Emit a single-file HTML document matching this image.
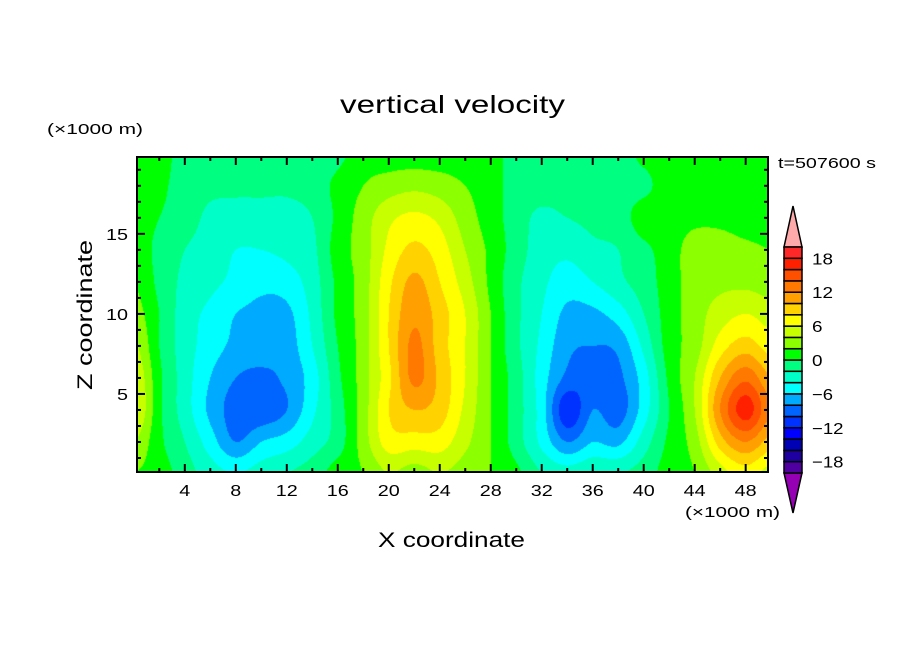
<!DOCTYPE html>
<html><head><meta charset="utf-8">
<style>
html,body{margin:0;padding:0;background:#fff;}
#wrap{position:relative;width:904px;height:654px;overflow:hidden;font-family:"Liberation Sans",sans-serif;}
</style></head><body>
<div id="wrap">
<canvas id="field" width="631" height="315" style="position:absolute;left:137px;top:157px;"></canvas>
<svg id="ov" width="904" height="654" style="position:absolute;left:0;top:0;" font-family="Liberation Sans, sans-serif">
<text x="340" y="113" font-size="25" textLength="225" lengthAdjust="spacingAndGlyphs">vertical velocity</text>
<text x="47" y="134" font-size="15" textLength="96" lengthAdjust="spacingAndGlyphs">(×1000 m)</text>
<text x="778" y="168" font-size="15" textLength="98" lengthAdjust="spacingAndGlyphs">t=507600 s</text>
<text x="685" y="517" font-size="15" textLength="95" lengthAdjust="spacingAndGlyphs">(×1000 m)</text>
<text x="378" y="547" font-size="21" textLength="147" lengthAdjust="spacingAndGlyphs">X coordinate</text>
<text x="0" y="0" font-size="21" textLength="150" lengthAdjust="spacingAndGlyphs" transform="translate(92,390) rotate(-90)">Z coordinate</text>
</svg>
</div>
<script>
// x = 0,2,...,50 ; rows z = 20,18,...,0
const xs = [0,2,4,6,8,10,12,14,16,18,20,22,24,26,28,30,32,34,36,38,40,42,44,46,48,50];
const zs = [20,18,16,14,12,10,8,6,4,2,0];
const w20 = [1,1,-1,-1,-1,-1,-1,-1,-0.5,1,1,1,1,1,1,-1,-1,-1,-1,-1,0.5,1,1,1,1,1];
const w18 = [1,0.5,-1,-1.5,-1.5,-1.5,-1.5,-1,0.5,2,3,3.5,3,2,1,-1,-1,-1,-1,-1,-0.5,1,1,1,1,1];
const w16 = [1,0,-1,-2.5,-3,-3,-3,-2,0.5,3,5.5,6.5,5.5,3,1,-1,-2.5,-2,-1.5,-1,1,1,1.5,1.5,1,1];
const w14 = [1,-0.5,-2,-3,-4,-4,-3.5,-2.5,1,3,6.5,8.5,7,4,1.5,-1,-3,-3.5,-2.5,-2,-0.5,1,3,3,2.5,2];
const w12 = [2,-0.5,-2.5,-3.5,-4.5,-5.5,-5,-3,0.5,3,7.5,10.5,8,5,1.5,-1.5,-3.5,-5,-4,-2.5,-1,1,3,3.5,3.5,3];
const w10 = [3,0,-3,-4.5,-6,-6.5,-6.5,-3.5,0.5,3,8,11.5,9,6,2,-1.5,-4,-6.5,-6.5,-5,-2,1,3,5,6,5];
const w8  = [4.5,0,-3,-5,-6.5,-7,-7,-4,0,3,8,12.5,9,6,2,-1.5,-4.5,-7.5,-8,-7.5,-3.5,1,3,7,9,7];
const w6  = [6,0.5,-3,-6,-8,-8.5,-7.5,-5,-0.5,3,7.5,12.5,9.5,6,2,-1,-5,-8.5,-9,-8.5,-5,0.5,4,10,13.5,10];
const w4  = [6.5,0.5,-3,-6.5,-9,-9.5,-8,-4.5,-1,3,8,10,9,5.5,2,-1,-5,-11.5,-8,-9,-5,0,4,12,17,12];
const w2  = [4,0.5,-2,-5,-8,-6,-5,-3,-1,3,7,7,7,4.5,2,-1,-4.5,-8,-6,-6.5,-3,0.5,3,9,12,9];
const w0  = [2,1,-1,-3,-4,-3,-2,-1,1,2,4,3,4,3,2,0.5,-2,-3,-2,-2,-1,1,2,5,7,5];
const rows = [w20,w18,w16,w14,w12,w10,w8,w6,w4,w2,w0];
const levelColors = ["#5000a0","#1e00a0","#0000b4","#0000ff","#0032ff","#0064ff","#00aaff","#00ffff","#00ffc8","#00ff80",
 "#00ff00","#8cff00","#c8ff00","#ffff00","#ffd200","#ffa000","#ff7800","#ff5000","#ff2000","#ff2828"];
const levelLabels = [-18,-12,-6,0,6,12,18];

const L=137,R=768,T=157,B=472, X0=0.25,X1=49.75, Z0=0.125, Z1=19.8;
const sx = v => L+(v-X0)/(X1-X0)*(R-L);
const sy = v => B-(v-Z0)/(Z1-Z0)*(B-T);

function cr(p0,p1,p2,p3,t){return 0.5*((2*p1)+(-p0+p2)*t+(2*p0-5*p1+4*p2-p3)*t*t+(-p0+3*p1-3*p2+p3)*t*t*t);}
function g(i,j){i=Math.max(0,Math.min(rows.length-1,i));j=Math.max(0,Math.min(xs.length-1,j));return rows[i][j];}
function val(x,z){
  const fx=(x-xs[0])/2, fz=(zs[0]-z)/2;
  const j=Math.floor(fx), i=Math.floor(fz), tx=fx-j, tz=fz-i;
  const r=[];
  for(let k=-1;k<=2;k++) r.push(cr(g(i+k,j-1),g(i+k,j),g(i+k,j+1),g(i+k,j+2),tx));
  return cr(r[0],r[1],r[2],r[3],tz);
}
const cv=document.getElementById('field'),ctx=cv.getContext('2d');
const img=ctx.createImageData(cv.width,cv.height);
const rgb=levelColors.map(c=>[parseInt(c.substr(1,2),16),parseInt(c.substr(3,2),16),parseInt(c.substr(5,2),16)]);
for(let py=0;py<cv.height;py++)for(let px=0;px<cv.width;px++){
  const x=X0+(px+0.5)/cv.width*(X1-X0), z=Z1-(py+0.5)/cv.height*(Z1-Z0);
  let v=val(x,z); let k=Math.floor((v+20)/2); k=Math.max(0,Math.min(19,k));
  const c=rgb[k],o=(py*cv.width+px)*4; img.data[o]=c[0];img.data[o+1]=c[1];img.data[o+2]=c[2];img.data[o+3]=255;
}
ctx.putImageData(img,0,0);

const NS="http://www.w3.org/2000/svg", ov=document.getElementById('ov');
function el(t,a){const e=document.createElementNS(NS,t);for(const k in a)e.setAttribute(k,a[k]);ov.appendChild(e);return e;}
const frame=el('rect',{x:L,y:T,width:R-L,height:B-T,fill:'none',stroke:'#000','stroke-width':2});


for(let v=2;v<=48;v+=2){
  const x=sx(v), len=(v%4===0)?8:4;
  el('line',{x1:x,y1:B,x2:x,y2:B-len,stroke:'#000','stroke-width':2});
  el('line',{x1:x,y1:T,x2:x,y2:T+len,stroke:'#000','stroke-width':2});
  if(v%4===0){const s=String(v);const t=el('text',{x:x,y:496,'text-anchor':'middle','font-size':16,textLength:s.length*11,lengthAdjust:'spacingAndGlyphs'});t.textContent=s;
    
    }
}
for(let v=1;v<=19;v++){
  const y=sy(v), len=(v%5===0)?8:4;
  el('line',{x1:L,y1:y,x2:L+len,y2:y,stroke:'#000','stroke-width':2});
  el('line',{x1:R,y1:y,x2:R-len,y2:y,stroke:'#000','stroke-width':2});
  if(v%5===0){const s=String(v);const t=el('text',{x:128,y:y+6,'text-anchor':'end','font-size':16,textLength:s.length*11,lengthAdjust:'spacingAndGlyphs'});t.textContent=s;
    
    }
}
// colorbar
const cbL=784,cbR=802,cbT=247,cbB=473,bh=(cbB-cbT)/20;
const up=el('polygon',{points:`${cbL},${cbT} ${cbR},${cbT} ${(cbL+cbR)/2},206`,fill:'#ffaaaa',stroke:'#000','stroke-width':1.5});


const dn=el('polygon',{points:`${cbL},${cbB} ${cbR},${cbB} ${(cbL+cbR)/2},513`,fill:'#9600b4',stroke:'#000','stroke-width':1.5});


for(let k=0;k<20;k++){
  const r=el('rect',{x:cbL,y:cbB-(k+1)*bh,width:cbR-cbL,height:bh,fill:levelColors[k],stroke:'#000','stroke-width':1.5});
  
  
}
levelLabels.forEach(v=>{
  const y=cbB-((v+20)/2)*bh;
  const s=v<0?'\u2212'+(-v):String(v);
  const t=el('text',{x:812,y:y+6,'font-size':16,textLength:s.length*10.5,lengthAdjust:'spacingAndGlyphs'});
  t.textContent=s;
  
  
});
</script>
</body></html>
